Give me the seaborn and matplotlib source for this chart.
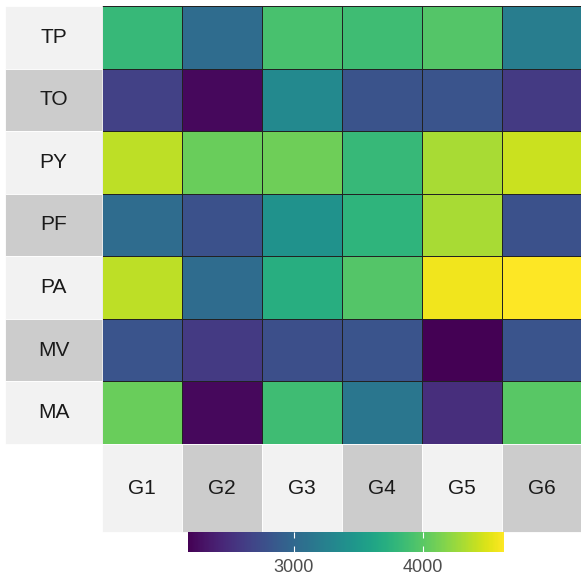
import numpy as np
import pandas as pd
import seaborn as sns
import matplotlib.pyplot as plt
from matplotlib.patches import Rectangle

rows = ['TP', 'TO', 'PY', 'PF', 'PA', 'MV', 'MA']
cols = ['G1', 'G2', 'G3', 'G4', 'G5', 'G6']

tp = [3820, 3040, 3920, 3870, 3970, 3210]
to = [2650, 2230, 3330, 2810, 2820, 2600]
py = [4390, 4070, 4090, 3820, 4310, 4430]
pf = [3040, 2790, 3430, 3770, 4310, 2790]
pa = [4390, 3040, 3720, 3970, 4580, 4630]
mv = [2820, 2600, 2770, 2820, 2180, 2820]
ma = [4070, 2230, 3870, 3140, 2500, 3990]

tab = pd.DataFrame([tp, to, py, pf, pa, mv, ma], index=rows, columns=cols)

plt.rcParams['font.family'] = ['Liberation Sans', 'DejaVu Sans']

W, H = 581, 580
fig = plt.figure(figsize=(W / 100, H / 100), dpi=100)

# heatmap area in pixels
x0, x1, y0, y1 = 102, 582, 6, 444
ax = fig.add_axes([x0 / W, 1 - y1 / H, (x1 - x0) / W, (y1 - y0) / H])
cax = fig.add_axes([188 / W, 1 - 552 / H, (504 - 188) / W, 20 / H])

sns.heatmap(tab, cmap='viridis', vmin=2180, vmax=4630, linewidths=0.7, linecolor='#222222',
            cbar_ax=cax, cbar_kws={'orientation': 'horizontal', 'ticks': [3000, 4000]}, ax=ax)

ax.set_xticks([])
ax.set_yticks([])
ax.set_xlabel('')
ax.set_ylabel('')

# label boxes
cw = (x1 - x0) / 6
rh = (y1 - y0) / 7
box_w = (x0 - 5) / cw
box_h = 88 / rh
light, dark = '#f2f2f2', '#cccccc'
for i, r in enumerate(rows):
    ax.add_patch(Rectangle((-box_w, i), box_w, 1, facecolor=light if i % 2 == 0 else dark,
                           edgecolor='white', lw=0.6, clip_on=False))
    ax.text(-box_w / 2, i + 0.5, r, ha='center', va='center', fontsize=15, color='#1a1a1a')
for j, c in enumerate(cols):
    ax.add_patch(Rectangle((j, 7), 1, box_h, facecolor=light if j % 2 == 0 else dark,
                           edgecolor='white', lw=0.6, clip_on=False))
    ax.text(j + 0.5, 7 + box_h / 2, c, ha='center', va='center', fontsize=15, color='#1a1a1a')

# colorbar look
cb = ax.collections[0].colorbar
cb.outline.set_visible(False)
cax.tick_params(axis='x', direction='in', color='white', length=4, width=0.8,
                labelsize=13, labelcolor='#4d4d4d', pad=5)
cax.xaxis.set_ticks_position('both')
cax.tick_params(axis='x', top=True, labeltop=False)

fig.savefig('out.png', dpi=100)
